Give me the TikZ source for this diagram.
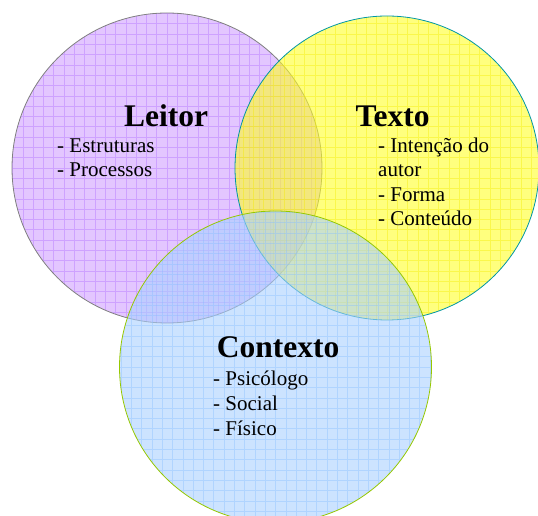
\documentclass[tikz,border=0pt]{standalone}
\usepackage{fontspec}
\setmainfont{Liberation Serif}
\definecolor{lfill}{RGB}{208,160,255}
\definecolor{lgrid}{RGB}{175,110,255}
\definecolor{lline}{RGB}{128,128,128}
\definecolor{tfill}{RGB}{255,255,40}
\definecolor{tgrid}{RGB}{245,235,0}
\definecolor{tline}{RGB}{0,150,165}
\definecolor{cfill}{RGB}{170,208,255}
\definecolor{cgrid}{RGB}{135,190,255}
\definecolor{cline}{RGB}{150,200,0}
\tikzset{
  venncircle/.style={circle, inner sep=0pt, fill opacity=0.6, line width=0.8pt},
  gridded/.style={path picture={\draw[#1, draw opacity=0.4, line width=0.6pt]
     (path picture bounding box.south west) grid[step=10.3pt] (path picture bounding box.north east);}},
  title/.style={anchor=base west, inner sep=0pt, font=\fontsize{31.5}{36}\selectfont\bfseries},
  item/.style={anchor=base west, inner sep=0pt, font=\fontsize{21}{24}\selectfont},
}
\begin{document}
\begin{tikzpicture}[x=1pt,y=1pt]
\useasboundingbox (0,0) rectangle (538,516);
\clip (0,0) rectangle (538,516);
\node[venncircle, minimum size=310pt, fill=lfill, draw=lline, gridded=lgrid] (leitor) at (167,348) {};
\node[venncircle, minimum size=304pt, fill=tfill, draw=tline, gridded=tgrid] (texto) at (387,348) {};
\node[venncircle, minimum size=312pt, fill=cfill, draw=cline, gridded=cgrid] (contexto) at (275.5,149) {};
% Leitor
\node[title] (tl) at (124,389.3) {Leitor};
\node[item] (l1) at (57,363.3) {- Estruturas};
\node[item] (l2) at (57,339.3) {- Processos};
% Texto
\node[title] (tt) at (355.3,389.3) {Texto};
\node[item] (t1) at (378,363.3) {- Intenção do};
\node[item] (t2) at (378,339.3) {autor};
\node[item] (t3) at (378,314.8) {- Forma};
\node[item] (t4) at (378,290.3) {- Conteúdo};
% Contexto
\node[title] (tc) at (216.7,158) {Contexto};
\node[item] (c1) at (213,130) {- Psicólogo};
\node[item] (c2) at (213,105) {- Social};
\node[item] (c3) at (213,80) {- Físico};
\end{tikzpicture}
\end{document}
